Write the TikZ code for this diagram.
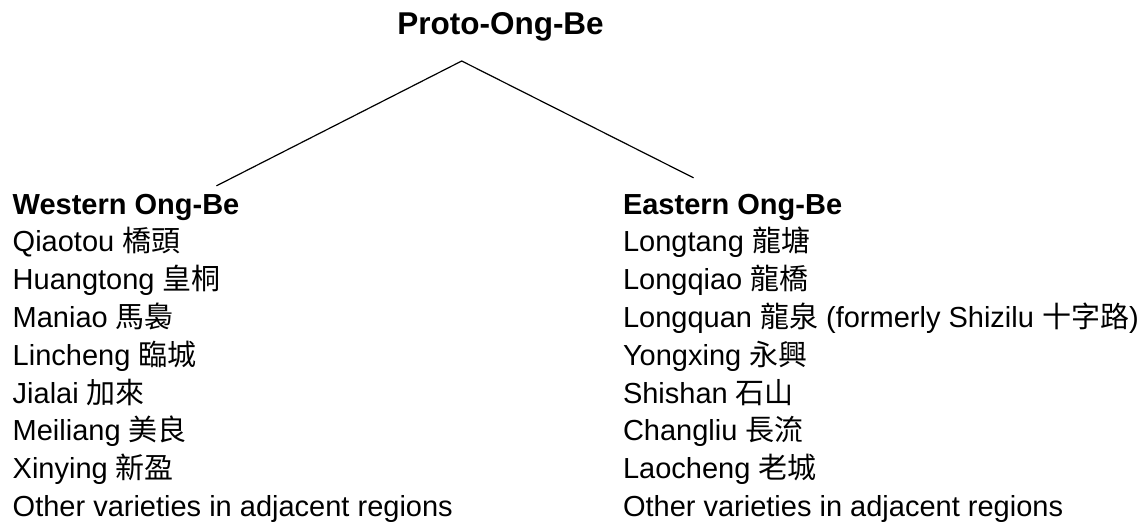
\documentclass[tikz,border=0pt]{standalone}
\usepackage{fontspec}
\setmainfont{Liberation Sans}
\newfontfamily\cjk{Noto Sans CJK TC}
\tikzset{
  item/.style={anchor=base west, inner sep=0pt, outer sep=0pt, font=\fontsize{29}{35}\selectfont},
  head/.style={item, font=\fontsize{29}{35}\selectfont\bfseries},
  title/.style={anchor=base, inner sep=0pt, outer sep=0pt, font=\fontsize{31.5}{38}\selectfont\bfseries},
  branch/.style={line width=1.2pt, line cap=round}
}
\begin{document}
\begin{tikzpicture}[x=1pt, y=-1pt]
\useasboundingbox (0,0) rectangle (1147,525);
\node[title] (root) at (500.5,34) {Proto-Ong-Be};
\coordinate (apex) at (461.7,61);
\coordinate (wend) at (216.7,185.7);
\coordinate (eend) at (693.3,177.7);
\draw[branch] (wend) -- (apex) -- (eend);
% Western
\node[head] (west) at (12.7,214) {Western Ong-Be};
\node[item] (w1) at (12.7,251.8) {Qiaotou {\cjk 橋頭}};
\node[item] (w2) at (12.7,289.6) {Huangtong {\cjk 皇桐}};
\node[item] (w3) at (12.7,327.4) {Maniao {\cjk 馬裊}};
\node[item] (w4) at (12.7,365.2) {Lincheng {\cjk 臨城}};
\node[item] (w5) at (12.7,403) {Jialai {\cjk 加來}};
\node[item] (w6) at (12.7,440.8) {Meiliang {\cjk 美良}};
\node[item] (w7) at (12.7,478.6) {Xinying {\cjk 新盈}};
\node[item] (w8) at (12.7,516.4) {Other varieties in adjacent regions};
% Eastern
\node[head] (east) at (623,214) {Eastern Ong-Be};
\node[item] (e1) at (623,251.8) {Longtang {\cjk 龍塘}};
\node[item] (e2) at (623,289.6) {Longqiao {\cjk 龍橋}};
\node[item] (e3) at (623,327.4) {Longquan {\cjk 龍泉} (formerly Shizilu {\cjk 十字路})};
\node[item] (e4) at (623,365.2) {Yongxing {\cjk 永興}};
\node[item] (e5) at (623,403) {Shishan {\cjk 石山}};
\node[item] (e6) at (623,440.8) {Changliu {\cjk 長流}};
\node[item] (e7) at (623,478.6) {Laocheng {\cjk 老城}};
\node[item] (e8) at (623,516.4) {Other varieties in adjacent regions};
\end{tikzpicture}
\end{document}
